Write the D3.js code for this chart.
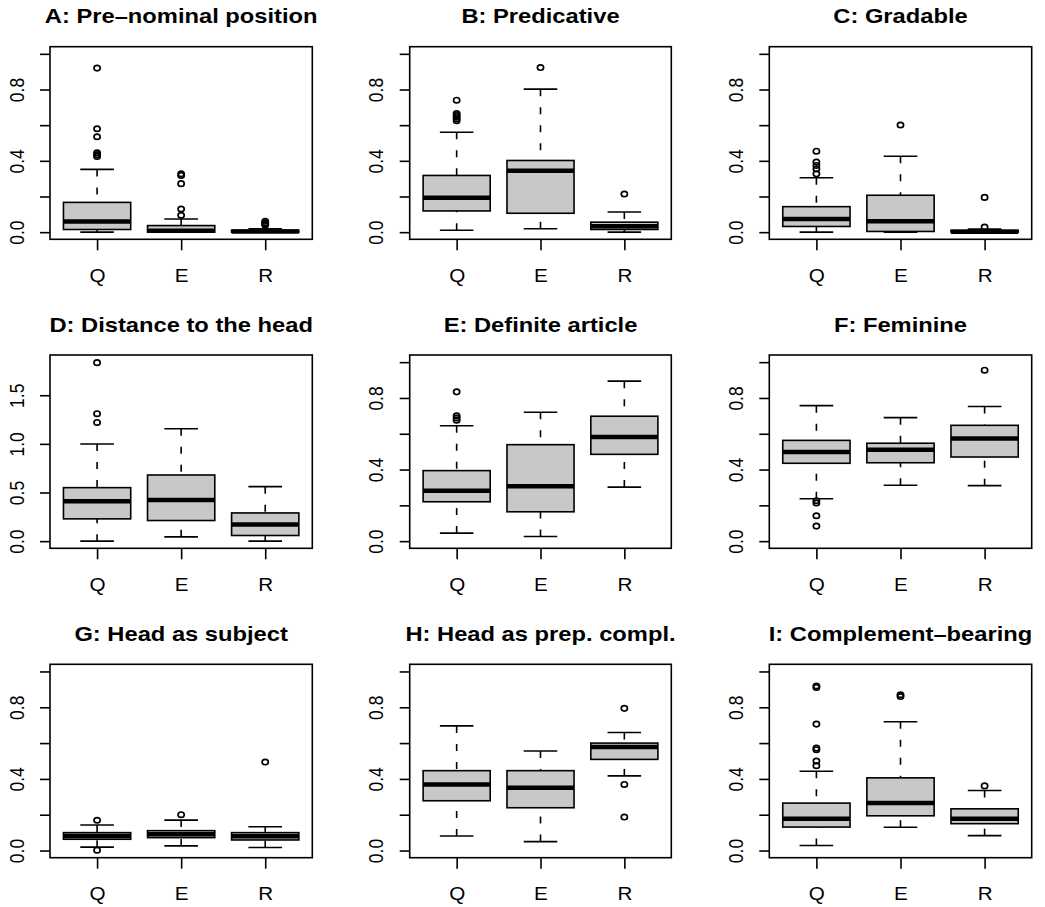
<!DOCTYPE html>
<html><head><meta charset="utf-8">
<script src="https://cdn.jsdelivr.net/npm/d3@7"></script>
<style>body{margin:0;background:#fff} svg{display:block}</style>
</head><body>
<script>
// ---------------- data ----------------
const groups = ["Q", "E", "R"];
const panelTitles = [
  "A: Pre\u2013nominal position", "B: Predicative", "C: Gradable",
  "D: Distance to the head", "E: Definite article", "F: Feminine",
  "G: Head as subject", "H: Head as prep. compl.", "I: Complement\u2013bearing"
];
// [lower whisker, Q1, median, Q3, upper whisker] for Q, E, R
const statsA = [[0.0, 0.015, 0.06, 0.167, 0.352], [0.0, 0.0, 0.008, 0.037, 0.074], [0.0, 0.0, 0.004, 0.011, 0.019]];
const outA = [[0.92, 0.58, 0.535, 0.445, 0.435, 0.425], [0.327, 0.318, 0.272, 0.13, 0.095], [0.061, 0.052, 0.046, 0.04]];
const statsB = [[0.011, 0.119, 0.193, 0.318, 0.56], [0.019, 0.106, 0.344, 0.402, 0.802], [0.0, 0.015, 0.033, 0.056, 0.113]];
const outB = [[0.74, 0.665, 0.655, 0.645, 0.635, 0.625], [0.923], [0.214]];
const statsC = [[0.0, 0.032, 0.074, 0.143, 0.305], [0.0, 0.004, 0.061, 0.207, 0.426], [0.0, 0.0, 0.003, 0.01, 0.017]];
const outC = [[0.454, 0.393, 0.374, 0.355, 0.327], [0.601], [0.028, 0.195]];
const statsD = [[0.0, 0.229, 0.41, 0.55, 0.998], [0.044, 0.212, 0.424, 0.68, 1.155], [0.0, 0.058, 0.171, 0.29, 0.56]];
const outD = [[1.835, 1.31, 1.22], [], []];
const statsE = [[0.045, 0.22, 0.282, 0.394, 0.645], [0.026, 0.164, 0.306, 0.539, 0.72], [0.302, 0.485, 0.582, 0.698, 0.894]];
const outE = [[0.834, 0.70, 0.688, 0.676], [], []];
const statsF = [[0.237, 0.435, 0.498, 0.563, 0.757], [0.312, 0.438, 0.511, 0.547, 0.69], [0.31, 0.47, 0.573, 0.647, 0.752]];
const outF = [[0.226, 0.213, 0.142, 0.084], [], [0.955]];
const statsG = [[0.019, 0.063, 0.081, 0.1, 0.143], [0.026, 0.072, 0.091, 0.111, 0.17], [0.017, 0.059, 0.08, 0.1, 0.133]];
const outG = [[0.169, 0.002], [0.2], [0.494]];
const statsH = [[0.081, 0.278, 0.369, 0.446, 0.696], [0.05, 0.239, 0.35, 0.446, 0.556], [0.417, 0.509, 0.578, 0.6, 0.659]];
const outH = [[], [], [0.794, 0.369, 0.187]];
const statsI = [[0.028, 0.131, 0.178, 0.265, 0.443], [0.13, 0.194, 0.265, 0.406, 0.719], [0.083, 0.15, 0.178, 0.233, 0.335]];
const outI = [[0.919, 0.911, 0.706, 0.572, 0.563, 0.5, 0.474], [0.87, 0.86], [0.361]];
// y limits of each panel
const yLimits = [[0, 1], [0, 1], [0, 1], [0, 1.84], [0, 1], [0, 1], [0, 1], [0, 1], [0, 1]];
// y tick values and labels
const ticksUnit = [0, 0.2, 0.4, 0.6, 0.8, 1.0];
const tickLabelsUnit = ["0.0", "", "0.4", "", "0.8", ""];
const ticksDist = [0, 0.5, 1.0, 1.5];
const tickLabelsDist = ["0.0", "0.5", "1.0", "1.5"];

const allStats = [statsA, statsB, statsC, statsD, statsE, statsF, statsG, statsH, statsI];
const allOut = [outA, outB, outC, outD, outE, outF, outG, outH, outI];

// ---------------- layout ----------------
const W = 1045, H = 907;
const colLeft = [50, 409.7, 769.3], colRight = [312.3, 671.3, 1031.7];
const rowTop = [46.7, 355, 664.3], rowBottom = [239.3, 548.3, 857.7];
const SX = 1.18; // horizontal text stretch
const FONT = "'Liberation Sans', Arial, Helvetica, sans-serif";
const BOXFILL = "#c8c8c8";
const LW = 1.6;

const svg = d3.select("body").append("svg").attr("width", W).attr("height", H)
  .style("font-family", FONT);

allStats.forEach((stats, p) => {
  const col = p % 3, row = Math.floor(p / 3);
  const L = colLeft[col], R = colRight[col], T = rowTop[row], B = rowBottom[row];
  const [lo, hi] = yLimits[p];
  const ext = 0.04 * (hi - lo);
  const y = d3.scaleLinear().domain([lo - ext, hi + ext]).range([B, T]);
  const x = d3.scaleLinear().domain([0.44, 3.56]).range([L, R]);
  const g = svg.append("g");
  const bw = 0.8, sw = 0.4;
  const pxPerUnit = x(1) - x(0);

  stats.forEach((s, i) => {
    const cx = x(i + 1);
    const [w0, q1, md, q3, w1] = s;
    // whiskers (dashed, drawn from whisker end to box edge)
    [[w0, q1], [w1, q3]].forEach(([a, b]) => {
      if (Math.abs(y(a) - y(b)) > 0.5)
        g.append("line").attr("x1", cx).attr("x2", cx).attr("y1", y(a)).attr("y2", y(b))
          .attr("stroke", "#000").attr("stroke-width", LW).attr("stroke-dasharray", "7,11");
    });
    // staples
    [w0, w1].forEach(v => {
      g.append("line").attr("x1", cx - sw / 2 * pxPerUnit).attr("x2", cx + sw / 2 * pxPerUnit)
        .attr("y1", y(v)).attr("y2", y(v)).attr("stroke", "#000").attr("stroke-width", LW);
    });
    // box
    g.append("rect").attr("x", cx - bw / 2 * pxPerUnit).attr("width", bw * pxPerUnit)
      .attr("y", y(q3)).attr("height", Math.max(0.01, y(q1) - y(q3)))
      .attr("fill", BOXFILL).attr("stroke", "#000").attr("stroke-width", LW);
    // median
    g.append("line").attr("x1", cx - bw / 2 * pxPerUnit).attr("x2", cx + bw / 2 * pxPerUnit)
      .attr("y1", y(md)).attr("y2", y(md)).attr("stroke", "#000").attr("stroke-width", 4.5);
    // outliers
    allOut[p][i].forEach(v => {
      g.append("ellipse").attr("cx", cx).attr("cy", y(v)).attr("rx", 3.1).attr("ry", 2.7)
        .attr("fill", "none").attr("stroke", "#000").attr("stroke-width", 1.7);
    });
  });

  // frame
  g.append("rect").attr("x", L).attr("y", T).attr("width", R - L).attr("height", B - T)
    .attr("fill", "none").attr("stroke", "#000").attr("stroke-width", LW);

  // y axis
  const isDist = hi > 1.5;
  const tv = isDist ? ticksDist : ticksUnit;
  const tl = isDist ? tickLabelsDist : tickLabelsUnit;
  const ya = g.append("g").attr("transform", `translate(${L},0)`)
    .call(d3.axisLeft(y).tickValues(tv).tickFormat((d, i) => tl[i]).tickSize(10).tickSizeOuter(0));
  ya.select(".domain").remove();
  ya.selectAll(".tick line").attr("stroke", "#000").attr("stroke-width", LW);
  ya.selectAll(".tick text").attr("x", null).attr("dy", null)
    .attr("text-anchor", "middle").attr("fill", "#000")
    .style("font-size", "17.5px").style("font-family", FONT)
    .attr("transform", `translate(-26.3,0) scale(${SX},1) rotate(-90)`);

  // x axis
  const xa = g.append("g").attr("transform", `translate(0,${B})`)
    .call(d3.axisBottom(x).tickValues([1, 2, 3]).tickFormat((d) => groups[d - 1]).tickSize(11).tickSizeOuter(0));
  xa.select(".domain").remove();
  xa.selectAll(".tick line").attr("stroke", "#000").attr("stroke-width", LW);
  xa.selectAll(".tick text").attr("y", null).attr("dy", null)
    .attr("text-anchor", "middle").attr("fill", "#000")
    .style("font-size", "17.5px").style("font-family", FONT)
    .attr("transform", `translate(0,42.4) scale(${SX},1)`);

  // title
  g.append("text").attr("text-anchor", "middle")
    .attr("transform", `translate(${(L + R) / 2},${T - 23.5}) scale(1.13,1)`)
    .style("font-size", "21px").style("font-weight", "bold").attr("fill", "#000")
    .text(panelTitles[p]);
});
</script>
</body></html>
